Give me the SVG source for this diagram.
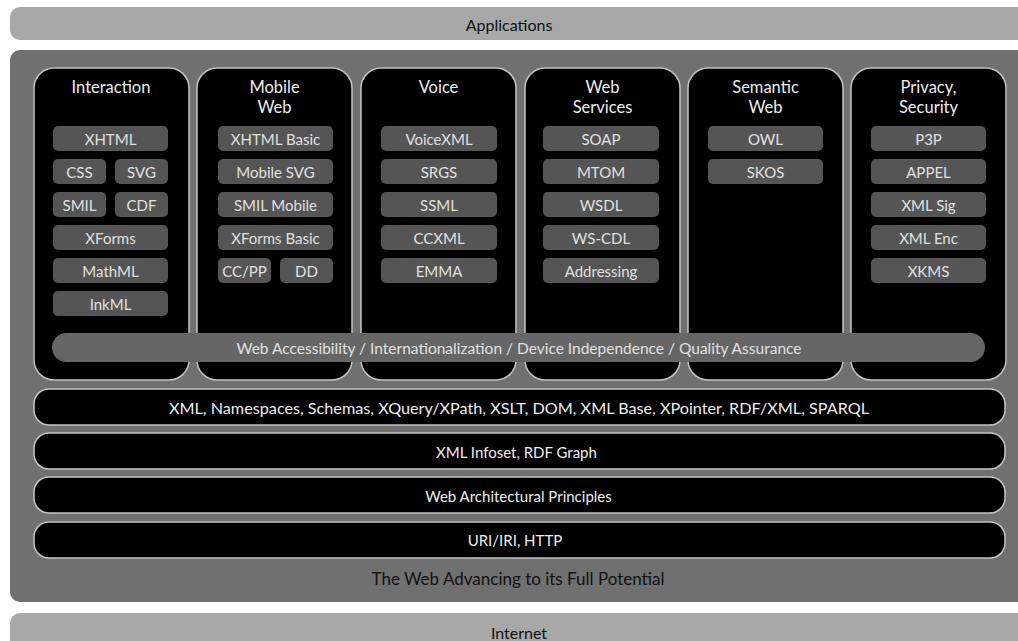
<svg xmlns="http://www.w3.org/2000/svg" width="1018" height="641" viewBox="0 0 1018 641">
<style>
text{font-family:Lato,"Open Sans","Liberation Sans",sans-serif;text-anchor:middle;dominant-baseline:central}
.band{fill:#a8a8a8}
.bandt{fill:#111;font-size:16px}
.panel{fill:#707070}
.col{fill:#000;stroke:#c4c4c4;stroke-width:1.5}
.colt{fill:#eee;font-size:16.5px}
.item{fill:#555}
.itemt{fill:#e0e0e0;font-size:15px}
.layer{fill:#000;stroke:#c4c4c4;stroke-width:1.5}
.layert{fill:#eee;font-size:15px}
.acc{fill:#666}
.acct{fill:#e0e0e0;font-size:15.5px}
</style>
<rect width="1018" height="641" fill="#fff"/>
<g id="applications">
<rect class="band" x="10" y="7" width="1030" height="33" rx="10"/>
<text class="bandt" x="509" y="24">Applications</text>
</g>
<g id="web-panel">
<rect class="panel" x="10" y="50" width="1030" height="552" rx="10"/>
<text x="518" y="578" style="fill:#111;font-size:17px">The Web Advancing to its Full Potential</text>
</g>
<g id="internet">
<rect class="band" x="10" y="613" width="1030" height="50" rx="10"/>
<text class="bandt" x="519" y="632">Internet</text>
</g>

<g id="col-interaction">
<rect class="col" x="34" y="68" width="155" height="312" rx="20"/>
<text class="colt" x="111" y="87">Interaction</text>
<rect class="item" x="53" y="126" width="115" height="25" rx="5"/><text class="itemt" x="110.5" y="138.5">XHTML</text>
<rect class="item" x="53" y="159" width="53" height="25" rx="5"/><text class="itemt" x="79.5" y="171.5">CSS</text>
<rect class="item" x="115" y="159" width="53" height="25" rx="5"/><text class="itemt" x="141.5" y="171.5">SVG</text>
<rect class="item" x="53" y="192" width="53" height="25" rx="5"/><text class="itemt" x="79.5" y="204.5">SMIL</text>
<rect class="item" x="115" y="192" width="53" height="25" rx="5"/><text class="itemt" x="141.5" y="204.5">CDF</text>
<rect class="item" x="53" y="225" width="115" height="25" rx="5"/><text class="itemt" x="110.5" y="237.5">XForms</text>
<rect class="item" x="53" y="258" width="115" height="25" rx="5"/><text class="itemt" x="110.5" y="270.5">MathML</text>
<rect class="item" x="53" y="291" width="115" height="25" rx="5"/><text class="itemt" x="110.5" y="303.5">InkML</text>
</g>

<g id="col-mobile-web">
<rect class="col" x="197" y="68" width="155" height="312" rx="20"/>
<text class="colt" x="274.5" y="86.5">Mobile</text>
<text class="colt" x="274.5" y="106.5">Web</text>
<rect class="item" x="218" y="126" width="115" height="25" rx="5"/><text class="itemt" x="275.5" y="138.5">XHTML Basic</text>
<rect class="item" x="218" y="159" width="115" height="25" rx="5"/><text class="itemt" x="275.5" y="171.5">Mobile SVG</text>
<rect class="item" x="218" y="192" width="115" height="25" rx="5"/><text class="itemt" x="275.5" y="204.5">SMIL Mobile</text>
<rect class="item" x="218" y="225" width="115" height="25" rx="5"/><text class="itemt" x="275.5" y="237.5">XForms Basic</text>
<rect class="item" x="218" y="258" width="53" height="25" rx="5"/><text class="itemt" x="244.5" y="270.5">CC/PP</text>
<rect class="item" x="280" y="258" width="53" height="25" rx="5"/><text class="itemt" x="306.5" y="270.5">DD</text>
</g>

<g id="col-voice">
<rect class="col" x="361" y="68" width="155" height="312" rx="20"/>
<text class="colt" x="438.5" y="87">Voice</text>
<rect class="item" x="381" y="126" width="116" height="25" rx="5"/><text class="itemt" x="439" y="138.5">VoiceXML</text>
<rect class="item" x="381" y="159" width="116" height="25" rx="5"/><text class="itemt" x="439" y="171.5">SRGS</text>
<rect class="item" x="381" y="192" width="116" height="25" rx="5"/><text class="itemt" x="439" y="204.5">SSML</text>
<rect class="item" x="381" y="225" width="116" height="25" rx="5"/><text class="itemt" x="439" y="237.5">CCXML</text>
<rect class="item" x="381" y="258" width="116" height="25" rx="5"/><text class="itemt" x="439" y="270.5">EMMA</text>
</g>

<g id="col-web-services">
<rect class="col" x="525" y="68" width="155" height="312" rx="20"/>
<text class="colt" x="602.5" y="86.5">Web</text>
<text class="colt" x="602.5" y="106.5">Services</text>
<rect class="item" x="543" y="126" width="116" height="25" rx="5"/><text class="itemt" x="601" y="138.5">SOAP</text>
<rect class="item" x="543" y="159" width="116" height="25" rx="5"/><text class="itemt" x="601" y="171.5">MTOM</text>
<rect class="item" x="543" y="192" width="116" height="25" rx="5"/><text class="itemt" x="601" y="204.5">WSDL</text>
<rect class="item" x="543" y="225" width="116" height="25" rx="5"/><text class="itemt" x="601" y="237.5">WS-CDL</text>
<rect class="item" x="543" y="258" width="116" height="25" rx="5"/><text class="itemt" x="601" y="270.5">Addressing</text>
</g>

<g id="col-semantic-web">
<rect class="col" x="688" y="68" width="155" height="312" rx="20"/>
<text class="colt" x="765.5" y="86.5">Semantic</text>
<text class="colt" x="765.5" y="106.5">Web</text>
<rect class="item" x="708" y="126" width="115" height="25" rx="5"/><text class="itemt" x="765.5" y="138.5">OWL</text>
<rect class="item" x="708" y="159" width="115" height="25" rx="5"/><text class="itemt" x="765.5" y="171.5">SKOS</text>
</g>

<g id="col-privacy-security">
<rect class="col" x="851" y="68" width="155" height="312" rx="20"/>
<text class="colt" x="928.5" y="86.5">Privacy,</text>
<text class="colt" x="928.5" y="106.5">Security</text>
<rect class="item" x="871" y="126" width="115" height="25" rx="5"/><text class="itemt" x="928.5" y="138.5">P3P</text>
<rect class="item" x="871" y="159" width="115" height="25" rx="5"/><text class="itemt" x="928.5" y="171.5">APPEL</text>
<rect class="item" x="871" y="192" width="115" height="25" rx="5"/><text class="itemt" x="928.5" y="204.5">XML Sig</text>
<rect class="item" x="871" y="225" width="115" height="25" rx="5"/><text class="itemt" x="928.5" y="237.5">XML Enc</text>
<rect class="item" x="871" y="258" width="115" height="25" rx="5"/><text class="itemt" x="928.5" y="270.5">XKMS</text>
</g>

<g id="accessibility">
<rect class="acc" x="52" y="333" width="933" height="29" rx="14.5"/>
<text class="acct" x="519" y="347.5">Web Accessibility / Internationalization / Device Independence / Quality Assurance</text>
</g>

<g id="layer-xml">
<rect class="layer" x="34" y="389" width="971" height="36" rx="15"/>
<text class="layert" x="519" y="407.5" textLength="700" lengthAdjust="spacingAndGlyphs">XML, Namespaces, Schemas, XQuery/XPath, XSLT, DOM, XML Base, XPointer, RDF/XML, SPARQL</text>
</g>
<g id="layer-infoset">
<rect class="layer" x="34" y="433" width="971" height="36" rx="15"/>
<text class="layert" x="516.5" y="451.5">XML Infoset, RDF Graph</text>
</g>
<g id="layer-arch">
<rect class="layer" x="34" y="477" width="971" height="36" rx="15"/>
<text class="layert" x="518.5" y="495.5">Web Architectural Principles</text>
</g>
<g id="layer-uri">
<rect class="layer" x="34" y="522" width="971" height="36" rx="15"/>
<text class="layert" x="515" y="540">URI/IRI, HTTP</text>
</g>
<g id="connectors"></g>
</svg>
